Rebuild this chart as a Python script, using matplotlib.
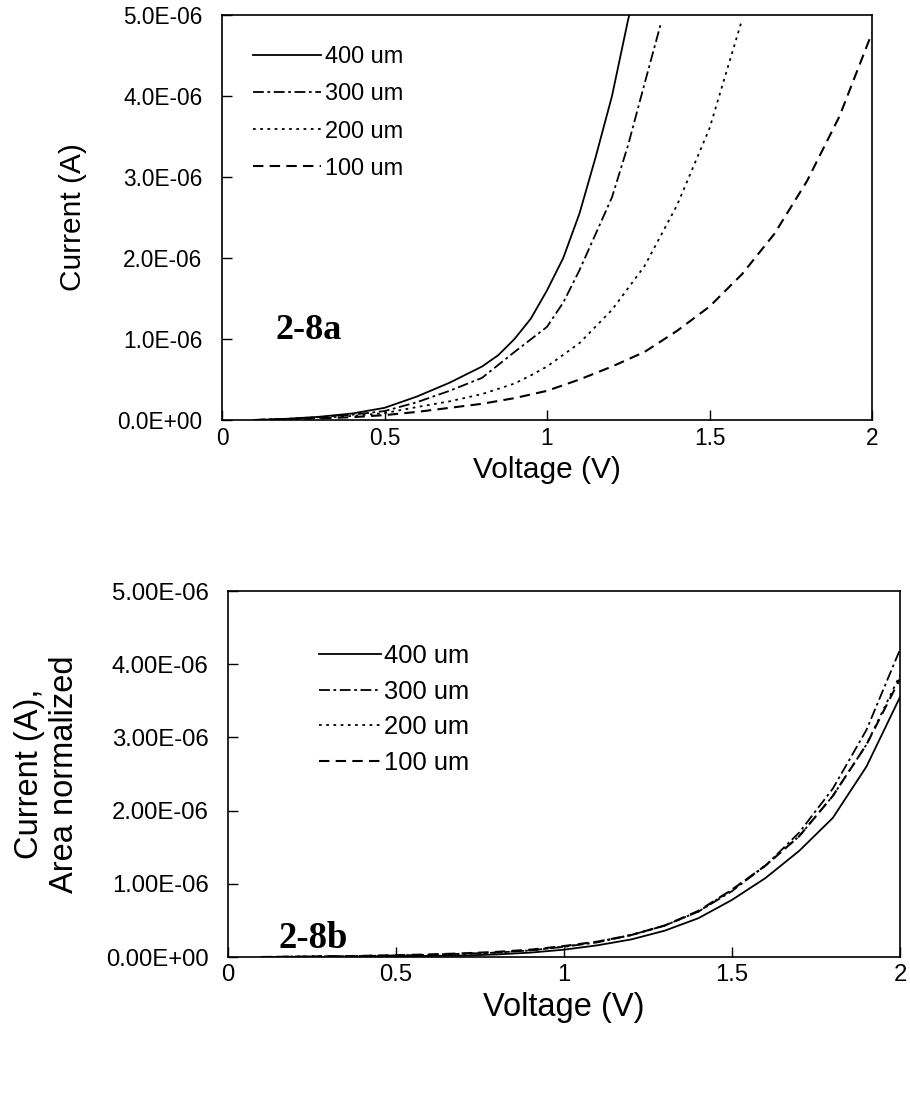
import matplotlib
matplotlib.use("Agg")
import matplotlib.pyplot as plt
from matplotlib.ticker import FixedLocator, FuncFormatter

plt.rcParams['font.family'] = ['Liberation Sans', 'DejaVu Sans']

labels = ["400 um", "300 um", "200 um", "100 um"]

# ---- Panel a: current (uA) vs voltage ----
va_400 = [0.1, 0.2, 0.3, 0.4, 0.5, 0.6, 0.7, 0.8, 0.85, 0.9, 0.95, 1.0, 1.05, 1.1, 1.15, 1.2, 1.25, 1.26]
ia_400 = [0.0, 0.015, 0.04, 0.08, 0.15, 0.29, 0.46, 0.66, 0.8, 1.0, 1.25, 1.6, 2.0, 2.55, 3.25, 4.0, 4.95, 5.1]
va_300 = [0.1, 0.2, 0.3, 0.4, 0.5, 0.6, 0.7, 0.8, 0.9, 1.0, 1.05, 1.1, 1.15, 1.2, 1.25, 1.3, 1.35]
ia_300 = [0.0, 0.015, 0.035, 0.065, 0.11, 0.22, 0.36, 0.52, 0.84, 1.15, 1.45, 1.85, 2.3, 2.75, 3.4, 4.15, 4.89]
va_200 = [0.1, 0.2, 0.3, 0.4, 0.5, 0.6, 0.7, 0.8, 0.9, 0.95, 1.0, 1.1, 1.2, 1.3, 1.4, 1.5, 1.6]
ia_200 = [0.0, 0.01, 0.025, 0.05, 0.085, 0.16, 0.23, 0.32, 0.45, 0.55, 0.66, 0.95, 1.36, 1.9, 2.65, 3.6, 4.94]
va_100 = [0.1, 0.2, 0.3, 0.4, 0.5, 0.6, 0.7, 0.8, 0.9, 1.0, 1.1, 1.2, 1.3, 1.4, 1.5, 1.6, 1.7, 1.8, 1.9, 2.0]
ia_100 = [0.0, 0.01, 0.02, 0.035, 0.06, 0.1, 0.15, 0.2, 0.27, 0.36, 0.5, 0.66, 0.84, 1.1, 1.4, 1.8, 2.3, 2.95, 3.75, 4.78]

# ---- Panel b: area-normalized current (uA) vs voltage ----
vb = [0.1, 0.2, 0.3, 0.4, 0.5, 0.6, 0.7, 0.8, 0.9, 1.0, 1.1, 1.2, 1.3, 1.4, 1.5, 1.6, 1.7, 1.8, 1.9, 2.0]
ib_400 = [0, 0, 0, 0.005, 0.01, 0.015, 0.02, 0.035, 0.06, 0.1, 0.16, 0.24, 0.36, 0.53, 0.78, 1.08, 1.45, 1.9, 2.6, 3.55]
ib_300 = [0, 0.005, 0.01, 0.015, 0.02, 0.03, 0.045, 0.06, 0.09, 0.14, 0.2, 0.3, 0.43, 0.62, 0.9, 1.25, 1.7, 2.3, 3.1, 4.2]
ib_200 = [0, 0.005, 0.01, 0.015, 0.02, 0.03, 0.045, 0.06, 0.09, 0.14, 0.21, 0.3, 0.43, 0.62, 0.92, 1.25, 1.65, 2.2, 2.9, 3.85]
ib_100 = [0, 0.005, 0.01, 0.015, 0.025, 0.035, 0.05, 0.07, 0.1, 0.15, 0.21, 0.3, 0.43, 0.63, 0.92, 1.25, 1.65, 2.2, 2.9, 3.8]

xticks = [0, 0.5, 1, 1.5, 2]
xticklabels = ["0", "0.5", "1", "1.5", "2"]
yticks = [0, 1e-6, 2e-6, 3e-6, 4e-6, 5e-6]

styles = [
    dict(linestyle='-', linewidth=1.3),
    dict(linestyle=(0, (6, 2, 1.5, 2)), linewidth=1.3),
    dict(linestyle=(0, (1.5, 2.5)), linewidth=1.3),
    dict(linestyle=(0, (5, 3)), linewidth=1.5),
]

W, H = 910, 1107
fig = plt.figure(figsize=(W / 100, H / 100), dpi=100)

def axrect(l, t, r, b):
    return [l / W, 1 - b / H, (r - l) / W, (b - t) / H]

axa = fig.add_axes(axrect(222, 15, 872, 420))
axb = fig.add_axes(axrect(228, 591, 900, 957))

series_a = [(va_400, ia_400), (va_300, ia_300), (va_200, ia_200), (va_100, ia_100)]
series_b = [(vb, ib_400), (vb, ib_300), (vb, ib_200), (vb, ib_100)]

for (v, i), st, lab in zip(series_a, styles, labels):
    axa.plot(v, [x * 1e-6 for x in i], color='black', label=lab, **st)
for (v, i), st, lab in zip(series_b, styles, labels):
    axb.plot(v, [x * 1e-6 for x in i], color='black', label=lab, **st)

for ax, fmt, tsz, lsz in ((axa, "{:.1E}", 16.3, 21.5), (axb, "{:.2E}", 17.2, 23.5)):
    ax.set_xlim(0, 2)
    ax.set_ylim(0, 5e-6)
    ax.xaxis.set_major_locator(FixedLocator(xticks))
    ax.set_xticklabels(xticklabels)
    ax.yaxis.set_major_locator(FixedLocator(yticks))
    ax.yaxis.set_major_formatter(FuncFormatter(lambda y, p, f=fmt: f.format(y)))
    ax.tick_params(direction='in', length=7, width=1, labelsize=tsz, colors='black')
    ax.tick_params(axis='y', pad=14)
    ax.tick_params(axis='x', pad=5)
    for s in ax.spines.values():
        s.set_linewidth(1.2)
        s.set_color('black')
    ax.set_xlabel("Voltage (V)", fontsize=lsz, labelpad=4)

axa.set_ylabel("Current (A)", fontsize=21.5, labelpad=22)
axb.set_ylabel("Current (A),\nArea normalized", fontsize=23.5, labelpad=19, linespacing=1.15)

axa.legend(loc='upper left', bbox_to_anchor=(0.048, 0.925), frameon=False, fontsize=16.9,
           handlelength=2.9, handletextpad=0.15, labelspacing=0.6, borderpad=0, borderaxespad=0)
axb.legend(loc='upper left', bbox_to_anchor=(0.135, 0.855), frameon=False, fontsize=18.4,
           handlelength=2.45, handletextpad=0.12, labelspacing=0.45, borderpad=0, borderaxespad=0)

axa.text(0.083, 0.222, "2-8a", transform=axa.transAxes, fontsize=26, fontweight='bold',
         family='Liberation Serif', va='center', ha='left')
axb.text(0.075, 0.05, "2-8b", transform=axb.transAxes, fontsize=26.4, fontweight='bold',
         family='Liberation Serif', va='center', ha='left')

fig.savefig("out.png", dpi=100)
